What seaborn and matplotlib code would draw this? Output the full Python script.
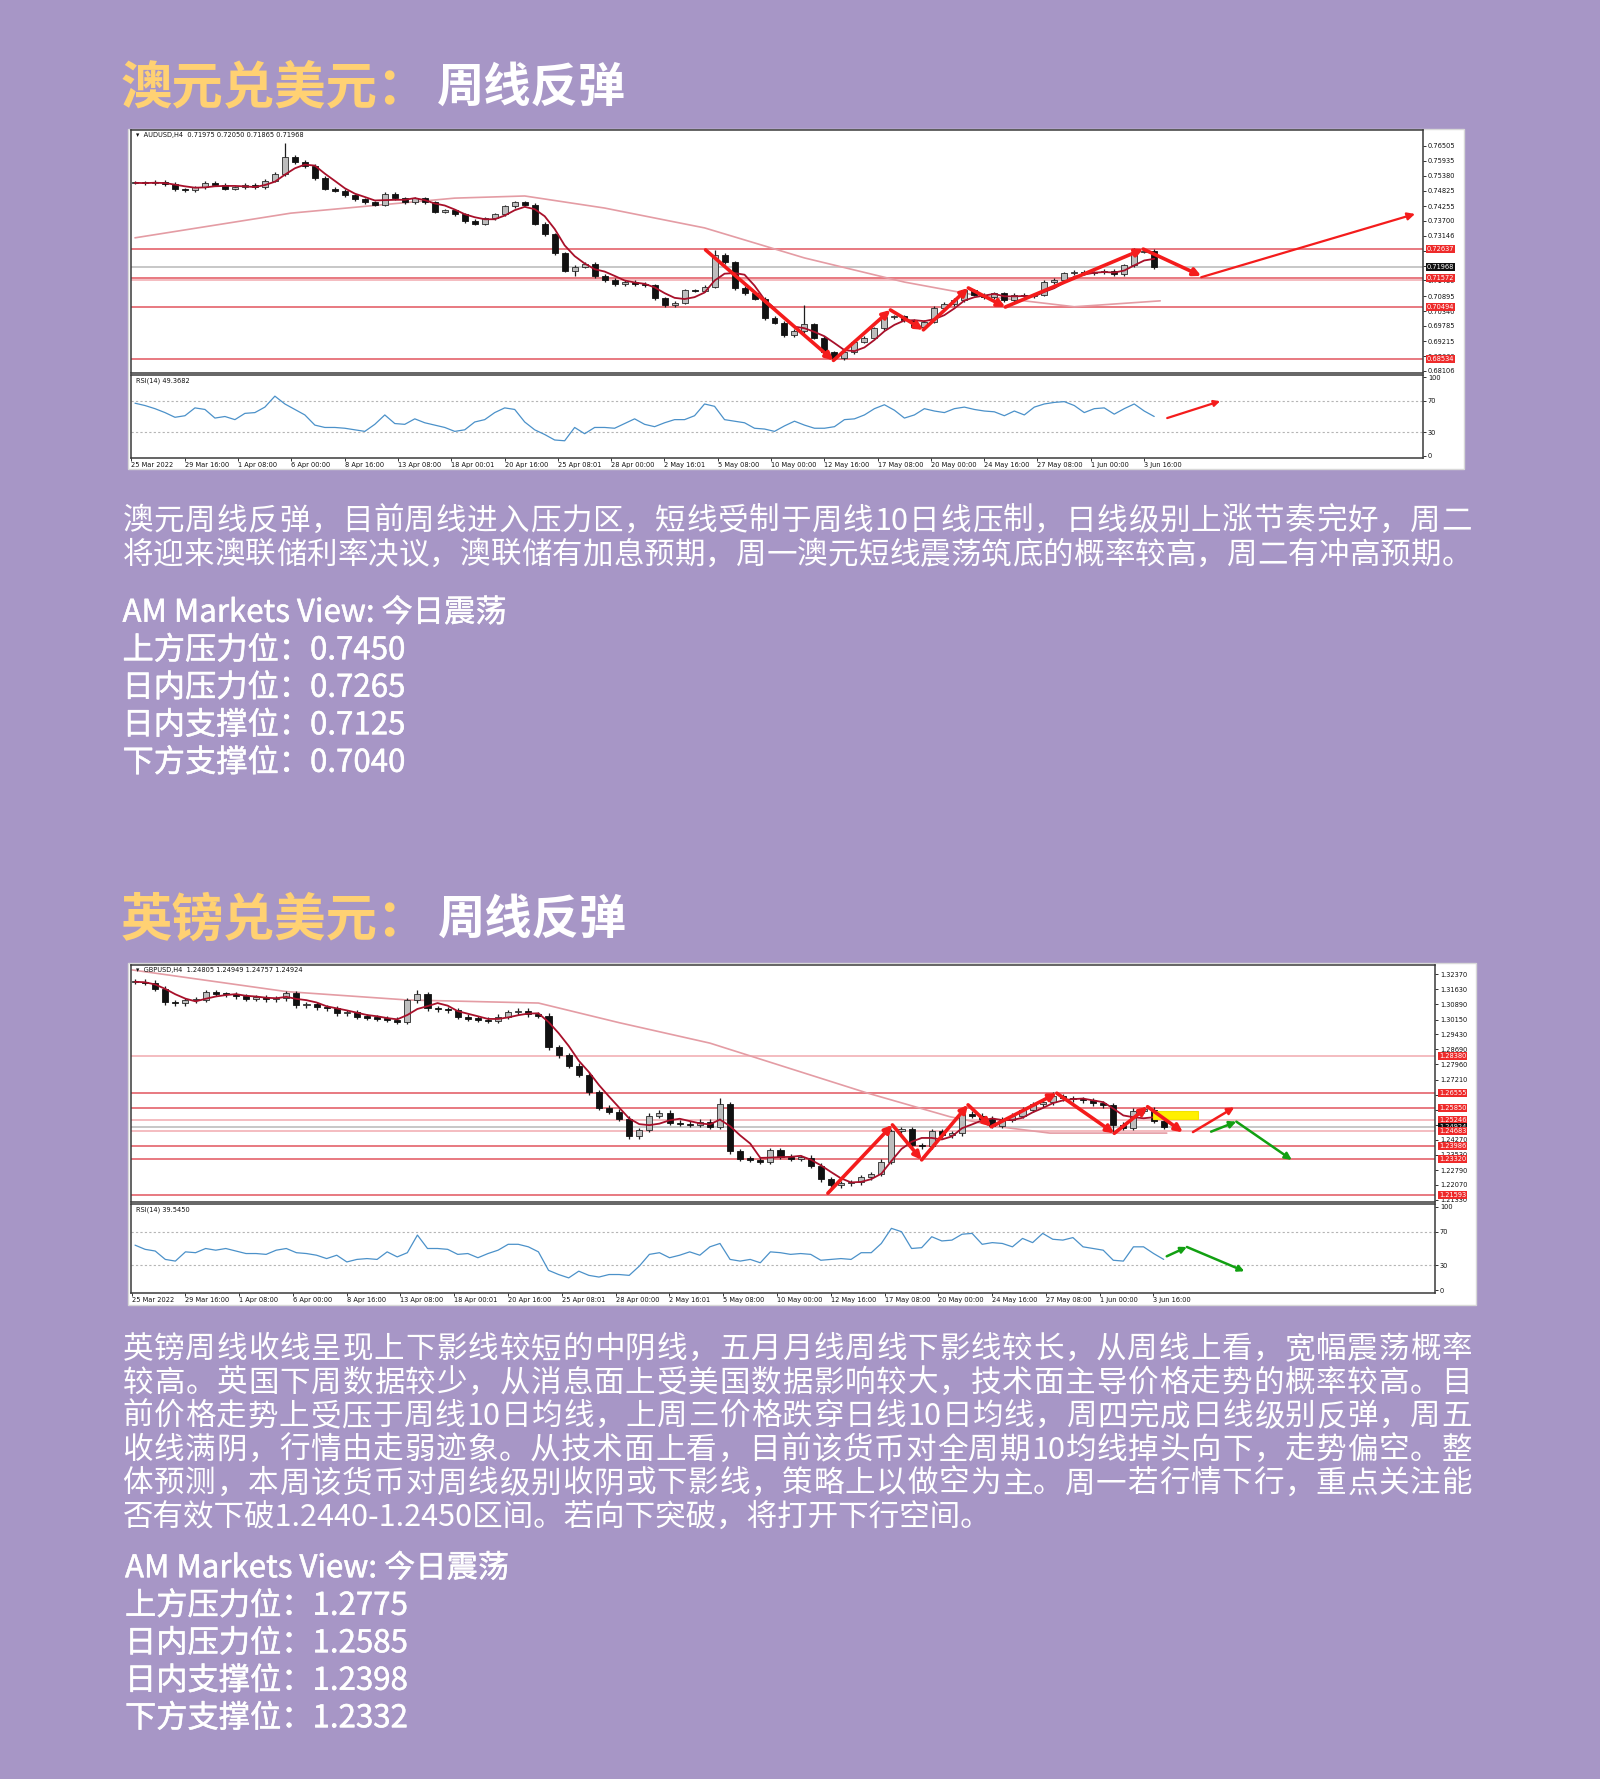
import re
import numpy as np
import pandas as pd
import matplotlib
matplotlib.use("Agg")
import matplotlib.pyplot as plt
import matplotlib.patheffects as pe
import seaborn as sns
from matplotlib import font_manager
from matplotlib.ft2font import FT2Font
from matplotlib.patches import Rectangle

sns.set_theme(style="white")
plt.rcParams['font.family'] = ['Noto Sans CJK SC', 'DejaVu Sans']

W, H = 1600, 1779
BG = '#A796C6'
YELLOW = '#FFD173'

# ---------------- data ----------------
# one candle ~ 3 H4 bars
date_labels = ["25 Mar 2022", "29 Mar 16:00", "1 Apr 08:00", "6 Apr 00:00", "8 Apr 16:00",
               "13 Apr 08:00", "18 Apr 00:01", "20 Apr 16:00", "25 Apr 08:01", "28 Apr 00:00",
               "2 May 16:01", "5 May 08:00", "10 May 00:00", "12 May 16:00", "17 May 08:00",
               "20 May 00:00", "24 May 16:00", "27 May 08:00", "1 Jun 00:00", "3 Jun 16:00"]

aud_close = [0.7512, 0.7510, 0.7515, 0.7508, 0.7488, 0.7485, 0.7495, 0.7512, 0.7505, 0.7490,
             0.7495, 0.7505, 0.7495, 0.7520, 0.7545, 0.7610, 0.7590, 0.7575, 0.7530, 0.7490,
             0.7482, 0.7465, 0.7450, 0.7440, 0.7430, 0.7470, 0.7455, 0.7440, 0.7455, 0.7440,
             0.7405, 0.7410, 0.7395, 0.7370, 0.7360, 0.7380, 0.7395, 0.7425, 0.7440, 0.7430,
             0.7360, 0.7320, 0.7250, 0.7185, 0.7200, 0.7210, 0.7165, 0.7150, 0.7135, 0.7142,
             0.7135, 0.7130, 0.7082, 0.7056, 0.7065, 0.7112, 0.7110, 0.7125, 0.7243, 0.7215,
             0.7120, 0.7100, 0.7080, 0.7008, 0.6990, 0.6945, 0.6960, 0.6985, 0.6935, 0.6880,
             0.6858, 0.6880, 0.6920, 0.6935, 0.6970, 0.7010, 0.7015, 0.7000, 0.6975, 0.6995,
             0.7045, 0.7060, 0.7075, 0.7112, 0.7095, 0.7085, 0.7100, 0.7075, 0.7095, 0.7090,
             0.7095, 0.7142, 0.7150, 0.7175, 0.7180, 0.7175, 0.7178, 0.7185, 0.7172, 0.7205,
             0.7255, 0.7258, 0.7197]
aud_high_spikes = {15: 0.7661, 58: 0.7262, 67: 0.7055, 100: 0.7270}
aud_low_spikes = {70: 0.6850, 44: 0.7165}
aud_ma200_x = [0, 15.6, 32, 39, 47, 57, 67, 77, 84, 94, 102.6]
aud_ma200_y = [0.7307, 0.7399, 0.7455, 0.7463, 0.7418, 0.7344, 0.7232, 0.7142, 0.7094, 0.7050, 0.7072]
aud_rsi = [67, 64, 60, 55, 49, 51, 61, 59, 48, 50,
           46, 54, 55, 62, 76, 66, 59, 52, 39, 36,
           36, 35, 33, 31, 40, 52, 41, 40, 47, 42,
           39, 36, 31, 33, 43, 46, 55, 61, 59, 43,
           33, 27, 20, 19, 36, 28, 36, 36, 35, 41,
           47, 40, 37, 42, 46, 46, 51, 66, 63, 46,
           44, 42, 35, 34, 31, 38, 44, 39, 35, 35,
           37, 46, 47, 52, 60, 65, 58, 48, 52, 60,
           57, 55, 60, 62, 59, 57, 56, 51, 57, 52,
           62, 66, 68, 69, 64, 55, 60, 61, 53, 60,
           66, 57, 50]
aud_yticks = [0.76505, 0.75935, 0.75380, 0.74825, 0.74255, 0.73700, 0.73146, 0.72590,
              0.72035, 0.71480, 0.70895, 0.70340, 0.69785, 0.69215, 0.68660, 0.68106]
aud_levels = [0.7265, 0.7197, 0.7157, 0.7149, 0.7050, 0.6854]
aud_level_kind = ['r', 'g', 'r', 'p', 'r', 'r']
aud_tags = [(0.7265, '0.72637'), (0.7197, '0.71968'), (0.7157, '0.71572'),
            (0.7050, '0.70494'), (0.6854, '0.68534')]
aud_tag_kind = ['r', 'k', 'r', 'r', 'r']
aud_path_x = [57.1, 69.9, 75.6, 78.9, 83.4, 87.1, 100.9, 106.7]
aud_path_y = [0.7262, 0.6850, 0.7038, 0.6964, 0.7120, 0.7049, 0.7265, 0.7165]
aud_target_x = [106.7, 128.1]
aud_target_y = [0.7160, 0.7396]
aud_rsi_arrow_x = [103.3, 108.6]
aud_rsi_arrow_y = [48, 69.6]

gbp_close = [1.3200, 1.3195, 1.3165, 1.3100, 1.3095, 1.3110, 1.3112, 1.3150, 1.3140, 1.3138,
             1.3130, 1.3118, 1.3125, 1.3115, 1.3120, 1.3145, 1.3085, 1.3090, 1.3075, 1.3070,
             1.3045, 1.3050, 1.3030, 1.3025, 1.3020, 1.3015, 1.3005, 1.3110, 1.3138, 1.3070,
             1.3065, 1.3060, 1.3030, 1.3020, 1.3015, 1.3008, 1.3030, 1.3050, 1.3058, 1.3040,
             1.3035, 1.2880, 1.2840, 1.2790, 1.2745, 1.2660, 1.2585, 1.2565, 1.2530, 1.2445,
             1.2475, 1.2545, 1.2560, 1.2510, 1.2505, 1.2500, 1.2515, 1.2490, 1.2600, 1.2370,
             1.2335, 1.2330, 1.2320, 1.2375, 1.2345, 1.2335, 1.2340, 1.2300, 1.2235, 1.2205,
             1.2215, 1.2220, 1.2245, 1.2260, 1.2320, 1.2470, 1.2480, 1.2400, 1.2395, 1.2470,
             1.2450, 1.2460, 1.2555, 1.2545, 1.2530, 1.2495, 1.2525, 1.2545, 1.2575, 1.2600,
             1.2610, 1.2640, 1.2630, 1.2625, 1.2620, 1.2605, 1.2595, 1.2500, 1.2485, 1.2570,
             1.2575, 1.2520, 1.2492]
gbp_high_spikes = {28: 1.3160, 58: 1.2632, 91: 1.2660}
gbp_low_spikes = {49: 1.2430, 69: 1.2190, 97: 1.2458}
gbp_ma200_x = [-0.3, 15, 27, 40, 48, 57, 72.6, 80.8, 85.7, 90.7, 102.3]
gbp_ma200_y = [1.3258, 1.3152, 1.3111, 1.3096, 1.3000, 1.2900, 1.2656, 1.2540, 1.2491, 1.2460, 1.2460]
gbp_rsi = [54, 49, 47, 37, 35, 46, 45, 50, 48, 50,
           47, 44, 44, 43, 48, 50, 45, 44, 42, 38,
           42, 34, 37, 38, 37, 46, 40, 45, 66, 50,
           50, 49, 43, 44, 39, 44, 48, 55, 55, 52,
           46, 24, 19, 15, 23, 18, 16, 19, 19, 18,
           29, 43, 45, 39, 42, 46, 42, 52, 56, 37,
           35, 37, 33, 46, 45, 43, 44, 43, 36, 37,
           38, 37, 45, 45, 56, 74, 70, 50, 51, 64,
           59, 60, 67, 68, 55, 57, 56, 52, 62, 57,
           68, 61, 60, 63, 52, 50, 48, 36, 35, 52,
           52, 44, 37]
gbp_yticks = [1.32370, 1.31630, 1.30890, 1.30150, 1.29430, 1.28690, 1.27960, 1.27210,
              1.26470, 1.25730, 1.24990, 1.24270, 1.23530, 1.22790, 1.22070, 1.21330]
gbp_levels = [1.2838, 1.2655, 1.2585, 1.2525, 1.2492, 1.2468, 1.2398, 1.2332, 1.2159]
gbp_level_kind = ['p', 'r', 'r', 'p', 'g', 'p', 'r', 'r', 'r']
gbp_tags = [(1.2838, '1.28380'), (1.2655, '1.26555'), (1.2585, '1.25850'), (1.2525, '1.25246'),
            (1.2492, '1.24924'), (1.2468, '1.24683'), (1.2398, '1.23986'), (1.2332, '1.23320'),
            (1.2159, '1.21593')]
gbp_tag_kind = ['r', 'r', 'r', 'r', 'k', 'r', 'r', 'r', 'r']
gbp_path_x = [68.7, 75.1, 78.0, 82.6, 84.9, 91.4, 97.1, 100.4, 103.9]
gbp_path_y = [1.2166, 1.2500, 1.2329, 1.2598, 1.2491, 1.2655, 1.2459, 1.2589, 1.2464]
gbp_up_x = [104.9, 109.0]
gbp_up_y = [1.2465, 1.2586]
gbp_green_x = [106.7, 109.2, 114.7]
gbp_green_y = [1.2467, 1.2516, 1.2329]
gbp_box = (100.9, 105.4, 1.2530, 1.2566)
gbp_rsi_arrow_x = [102.3, 104.3, 110.0]
gbp_rsi_arrow_y = [40.7, 51.8, 22.9]

aud_text = ["澳元周线反弹，目前周线进入压力区，短线受制于周线10日线压制，日线级别上涨节奏完好，周二",
            "将迎来澳联储利率决议，澳联储有加息预期，周一澳元短线震荡筑底的概率较高，周二有冲高预期。"]
aud_view = ["AM Markets View: 今日震荡", "上方压力位：0.7450", "日内压力位：0.7265",
            "日内支撑位：0.7125", "下方支撑位：0.7040"]
gbp_text = ["英镑周线收线呈现上下影线较短的中阴线，五月月线周线下影线较长，从周线上看，宽幅震荡概率",
            "较高。英国下周数据较少，从消息面上受美国数据影响较大，技术面主导价格走势的概率较高。目",
            "前价格走势上受压于周线10日均线，上周三价格跌穿日线10日均线，周四完成日线级别反弹，周五",
            "收线满阴，行情由走弱迹象。从技术面上看，目前该货币对全周期10均线掉头向下，走势偏空。整",
            "体预测，本周该货币对周线级别收阴或下影线，策略上以做空为主。周一若行情下行，重点关注能",
            "否有效下破1.2440-1.2450区间。若向下突破，将打开下行空间。"]
gbp_view = ["AM Markets View: 今日震荡", "上方压力位：1.2775", "日内压力位：1.2585",
            "日内支撑位：1.2398", "下方支撑位：1.2332"]

BARS_PER_LABEL = 16
BARS_PER_CANDLE = 3
tick_pos = np.arange(len(date_labels)) * BARS_PER_LABEL / BARS_PER_CANDLE - 0.35

LINE_COLOR = {'r': '#E2555E', 'p': '#F1A9AF', 'g': '#B8B8B8'}
TAG_COLOR = {'r': '#EE2A2A', 'k': '#111111'}
SMALL = dict(fontsize=4.8, family='DejaVu Sans')

fig = plt.figure(figsize=(W / 100, H / 100), dpi=100, facecolor=BG)


def px_axes(x0, y0, x1, y1):
    return fig.add_axes([x0 / W, 1 - y1 / H, (x1 - x0) / W, (y1 - y0) / H])


def panel(x0, y0, x1, y1):
    fig.patches.append(Rectangle((x0 / W, 1 - y1 / H), (x1 - x0) / W, (y1 - y0) / H,
                                 transform=fig.transFigure, facecolor='white',
                                 edgecolor='#D8D8D8', lw=1, zorder=-5))


def arrows(ax, xs, ys, color, lw, head):
    for k in range(len(xs) - 1):
        ax.annotate('', xy=(xs[k + 1], ys[k + 1]), xytext=(xs[k], ys[k]),
                    arrowprops=dict(arrowstyle='-|>', color=color, lw=lw, mutation_scale=head,
                                    shrinkA=0, shrinkB=0), zorder=9)


def frame(ax):
    for s in ax.spines.values():
        s.set_visible(True)
        s.set_color('#3A3A3A')
        s.set_linewidth(1.1)


def price_chart(ax, closes, wick, min_body, hi_sp, lo_sp, ma_x, ma_y, ylim, yticks,
                levels, kinds, tags, tag_kinds, header):
    c = np.array(closes)
    x = np.arange(len(c))
    o = np.r_[c[0], c[:-1]]
    hi = np.maximum(o, c) + wick
    lo = np.minimum(o, c) - wick
    for k, v in hi_sp.items():
        hi[k] = max(hi[k], v)
    for k, v in lo_sp.items():
        lo[k] = min(lo[k], v)
    for v, kd in zip(levels, kinds):
        ax.axhline(v, color=LINE_COLOR[kd], lw=1.1, zorder=1)
    sns.lineplot(x=ma_x, y=ma_y, ax=ax, color='#E49CA4', lw=1.2, zorder=2)
    ax.vlines(x, lo, hi, color='#1E1E1E', lw=0.9, zorder=3)
    up = c >= o
    body = np.maximum(np.abs(c - o), min_body)
    bottom = np.minimum(o, c)
    ax.bar(x[up], body[up], bottom=bottom[up], width=0.6, color='#BDBDBD',
           edgecolor='#2A2A2A', lw=0.6, zorder=4)
    ax.bar(x[~up], body[~up], bottom=bottom[~up], width=0.6, color='#111111',
           edgecolor='#111111', lw=0.6, zorder=4)
    ma = pd.Series(c).rolling(4, min_periods=1).mean()
    sns.lineplot(x=x, y=ma.values, ax=ax, color='#A8102A', lw=1.3, zorder=5)
    ax.set_xlim(-0.4, 128.9)
    ax.set_ylim(*ylim)
    ax.set_xticks([])
    ax.set_yticks(yticks)
    ax.set_yticklabels([f'{v:.5f}' for v in yticks], **SMALL)
    ax.tick_params(axis='y', right=True, left=False, labelright=True, labelleft=False,
                   length=2, width=0.6, pad=1.5, colors='#111111')
    ax.set_xlabel('')
    ax.set_ylabel('')
    tr = ax.get_yaxis_transform()
    for (v, t), kd in zip(tags, tag_kinds):
        ax.text(1.003, v, t, transform=tr, color='white', va='center', ha='left', zorder=12,
                clip_on=False, bbox=dict(boxstyle='square,pad=0.15', fc=TAG_COLOR[kd], ec='none'),
                **SMALL)
    ax.text(0.004, 0.992, header, transform=ax.transAxes, va='top', ha='left',
            color='#111111', **SMALL)
    frame(ax)


def rsi_chart(ax, rsi, head):
    x = np.arange(len(rsi))
    for lv in (70, 30):
        ax.axhline(lv, color='#B5B5B5', lw=0.8, ls=(0, (2, 2)), zorder=1)
    sns.lineplot(x=x, y=rsi, ax=ax, color='#4B91C9', lw=0.9, zorder=3)
    ax.set_xlim(-0.4, 128.9)
    ax.set_ylim(-3, 103)
    ax.set_yticks([0, 30, 70, 100])
    ax.set_yticklabels(['0', '30', '70', '100'], **SMALL)
    ax.tick_params(axis='y', right=True, left=False, labelright=True, labelleft=False,
                   length=2, width=0.6, pad=1.5, colors='#111111')
    ax.set_xticks(tick_pos)
    ax.set_xticklabels(date_labels, ha='left', **SMALL)
    ax.tick_params(axis='x', bottom=True, length=2, width=0.6, pad=1, colors='#111111')
    ax.set_xlabel('')
    ax.set_ylabel('')
    ax.text(0.004, 0.97, head, transform=ax.transAxes, va='top', ha='left',
            color='#111111', **SMALL)
    frame(ax)


# ---------------- text helpers ----------------
_fonts = {}


def advance(tok, size, weight):
    if weight not in _fonts:
        path = font_manager.findfont(font_manager.FontProperties(family='Noto Sans CJK SC', weight=weight))
        _fonts[weight] = FT2Font(path, hinting_factor=1)
    ft = _fonts[weight]
    ft.set_size(size, 100)
    return sum(ft.load_char(ord(ch)).linearHoriAdvance / 65536 for ch in tok)


def put_text(s, x0, yc, size, color, weight='normal', x1=None, stroke=0):
    base = yc + 0.36 * size * 100 / 72
    fx = [pe.withStroke(linewidth=stroke, foreground=color)] if stroke else None
    if x1 is None:
        fig.text(x0 / W, 1 - base / H, s, fontsize=size, color=color, fontweight=weight,
                 family='Noto Sans CJK SC', va='baseline', ha='left', path_effects=fx)
        return
    toks = re.findall(r'[A-Za-z0-9.\-]+|.', s)
    adv = [advance(t, size, weight) for t in toks]
    gap = (x1 - x0 - sum(adv)) / (len(toks) - 1)
    x = x0
    for t, a in zip(toks, adv):
        fig.text(x / W, 1 - base / H, t, fontsize=size, color=color, fontweight=weight,
                 family='Noto Sans CJK SC', va='baseline', ha='left', path_effects=fx)
        x += a + gap


# ---------------- AUD/USD ----------------
put_text("澳元兑美元：", 121, 85, 37, YELLOW, 'bold')
put_text("周线反弹", 437, 85, 34, 'white', 'bold')
panel(128, 129, 1464, 469)
ax1 = px_axes(131, 130, 1423, 373)
price_chart(ax1, aud_close, 0.0006, 0.00035, aud_high_spikes, aud_low_spikes,
            aud_ma200_x, aud_ma200_y, (0.6803, 0.7709), aud_yticks, aud_levels, aud_level_kind,
            aud_tags, aud_tag_kind, '\u25be  AUDUSD,H4  0.71975 0.72050 0.71865 0.71968')
arrows(ax1, aud_path_x, aud_path_y, '#F41C1C', 2.6, 11)
arrows(ax1, aud_target_x, aud_target_y, '#F41C1C', 1.6, 11)
ax1r = px_axes(131, 375, 1423, 458)
rsi_chart(ax1r, aud_rsi, 'RSI(14) 49.3682')
arrows(ax1r, aud_rsi_arrow_x, aud_rsi_arrow_y, '#F41C1C', 1.6, 9)

for k, s in enumerate(aud_text):
    put_text(s, 122.5, 518.6 + k * 34.1, 22, 'white', 'light', x1=1472)
for k, s in enumerate(aud_view):
    put_text(s, 122.5, 610.5 + k * 37.5, 22.5, 'white', 'medium', stroke=0.35)

# ---------------- GBP/USD ----------------
put_text("英镑兑美元：", 121, 917, 37, YELLOW, 'bold')
put_text("周线反弹", 438, 917, 34, 'white', 'bold')
panel(128, 963, 1476, 1305)
ax2 = px_axes(131, 965, 1435, 1202)
price_chart(ax2, gbp_close, 0.0012, 0.0006, gbp_high_spikes, gbp_low_spikes,
            gbp_ma200_x, gbp_ma200_y, (1.2123, 1.3282), gbp_yticks, gbp_levels, gbp_level_kind,
            gbp_tags, gbp_tag_kind, '\u25be  GBPUSD,H4  1.24805 1.24949 1.24757 1.24924')
bx0, bx1, by0, by1 = gbp_box
ax2.add_patch(Rectangle((bx0, by0), bx1 - bx0, by1 - by0, facecolor='#FFF000',
                        edgecolor='#F4E200', lw=0.8, zorder=7))
arrows(ax2, gbp_path_x, gbp_path_y, '#F41C1C', 2.6, 11)
arrows(ax2, gbp_up_x, gbp_up_y, '#F41C1C', 1.8, 10)
arrows(ax2, gbp_green_x, gbp_green_y, '#12A012', 1.8, 10)
ax2r = px_axes(131, 1204, 1435, 1293)
rsi_chart(ax2r, gbp_rsi, 'RSI(14) 39.5450')
arrows(ax2r, gbp_rsi_arrow_x, gbp_rsi_arrow_y, '#12A012', 1.8, 9)

for k, s in enumerate(gbp_text):
    last = k == len(gbp_text) - 1
    put_text(s, 122.5, 1347 + k * 33.6, 22, 'white', 'light', x1=None if last else 1472)
for k, s in enumerate(gbp_view):
    put_text(s, 125, 1566 + k * 37.5, 22.5, 'white', 'medium', stroke=0.35)

fig.savefig('out.png', dpi=100, facecolor=BG)
